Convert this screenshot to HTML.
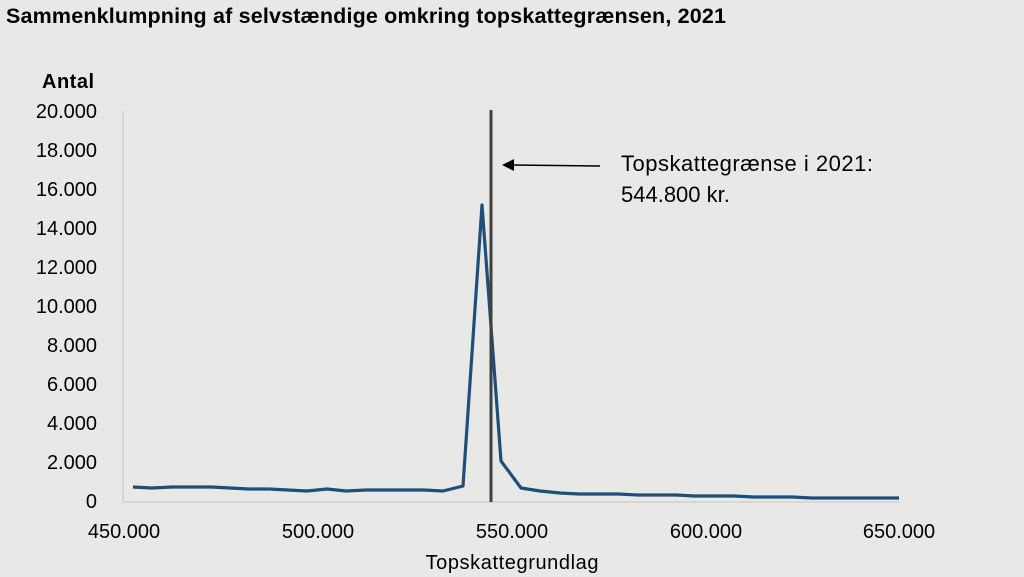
<!DOCTYPE html>
<html><head><meta charset="utf-8"><style>
body{margin:0;background:#e8e8e6;font-family:"Liberation Sans",sans-serif;}
</style></head><body>
<svg width="1024" height="577" xmlns="http://www.w3.org/2000/svg" style="display:block;background:#e8e8e6">
<text x="6" y="23" font-size="21.5" font-weight="bold" fill="#000" textLength="720">Sammenklumpning af selvstændige omkring topskattegrænsen, 2021</text>
<text x="42" y="88" font-size="20" font-weight="bold" fill="#000" textLength="52">Antal</text>
<g font-size="20" fill="#000" text-anchor="end">
<text x="97" y="118">20.000</text><text x="97" y="157">18.000</text><text x="97" y="196">16.000</text>
<text x="97" y="235">14.000</text><text x="97" y="274">12.000</text><text x="97" y="313">10.000</text>
<text x="97" y="352">8.000</text><text x="97" y="391">6.000</text><text x="97" y="430">4.000</text>
<text x="97" y="469">2.000</text><text x="97" y="508">0</text>
</g>
<g font-size="20" fill="#000" text-anchor="middle">
<text x="124" y="538">450.000</text><text x="318" y="538">500.000</text><text x="512" y="538">550.000</text>
<text x="706" y="538">600.000</text><text x="899" y="538">650.000</text>
<text x="512" y="569" textLength="173">Topskattegrundlag</text>
</g>
<line x1="123" y1="111" x2="123" y2="502" stroke="#c4c4c4" stroke-width="1"/>
<line x1="123" y1="502" x2="900" y2="502" stroke="#c4c4c4" stroke-width="1"/>
<polyline fill="none" stroke="#1f4e79" stroke-width="3.2" stroke-linejoin="round" points="133,487 152,488 172,487 191,487 211,487 230,488 249,489 269,489 288,490 307,491 327,489 346,491 366,490 385,490 404,490 424,490 443,491 463,486 482,205 501,461 521,488 540,491 560,493 579,494 598,494 618,494 637,495 656,495 676,495 695,496 715,496 734,496 754,497 773,497 792,497 812,498 831,498 850,498 870,498 899,498"/>
<line x1="491" y1="110" x2="491" y2="502" stroke="#404040" stroke-width="3"/>
<line x1="512" y1="165" x2="600" y2="166" stroke="#000" stroke-width="1.5"/>
<polygon points="502,165 514,159 514,171" fill="#000"/>
<text x="621" y="171" font-size="22" fill="#000" textLength="252">Topskattegrænse i 2021:</text>
<text x="621" y="202" font-size="22" fill="#000">544.800 kr.</text>
</svg>
</body></html>
